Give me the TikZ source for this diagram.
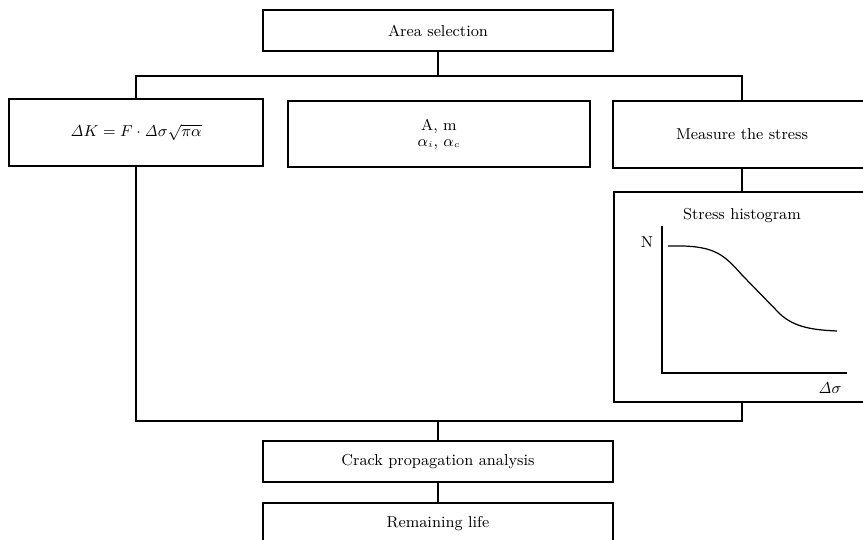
\documentclass[tikz,border=0pt]{standalone}
\usepackage{xcolor}
\usepackage{tikz}
\usepackage{amsmath}
\usetikzlibrary{positioning, calc}

\begin{document}
\begin{tikzpicture}[x=0.02cm, y=-0.02cm, font=\small, line width=0.7pt]
    \tikzstyle{block} = [rectangle, draw, text centered, minimum height=0.82cm, inner sep=0pt]
    \useasboundingbox (0,0) rectangle (863,540);
    
    % Top
    \node[block, minimum width=7cm] (area) at (438,30.5) {Area selection};
    
    % Inputs
    \node[block, minimum width=5.08cm, minimum height=1.34cm] (dk) at (136,132.5) {$\mathit{\Delta} K = F\cdot \mathit{\Delta}\sigma\sqrt{\pi\alpha}$};
    \node[block, minimum width=6.04cm, minimum height=1.32cm, text width=6cm, align=center] (am) at (439,134) {A, m\\[-2pt]$\alpha_{\scriptscriptstyle i}$, $\alpha_{\scriptscriptstyle c}$};
    \node[block, minimum width=5.16cm, minimum height=1.34cm] (meas) at (742,134.5) {Measure the stress};
    
    % Histogram
    \node[block, minimum width=5.12cm, minimum height=4.2cm] (hist) at (742,297) {};
    \node (histtitle) at (742,216) {Stress histogram};
    \node (nlab) at (647,242) {N};
    \node (slab) at (830,388) {$\mathit{\Delta}\sigma$};
    \draw (662,226) |- (847,373);
    \draw (668,246) .. controls (712,245) and (722,252) .. (742,275)
        -- (780,314) .. controls (795,328) and (815,330) .. (837,331);
    
    % Analysis
    \node[block, minimum width=7cm] (crack) at (438,461.5) {Crack propagation analysis};
    \node[block, minimum width=7cm, minimum height=0.84cm] (life) at (438,524) {Remaining life};
    
    \coordinate (busT) at (438,76);
    \coordinate (busB) at (438,421);
    
    \draw (area) -- (busT);
    \draw (dk.north) |- (busT) -| (meas.north);
    \draw (meas) -- (hist);
    \draw (dk.south) |- (busB) -| (hist.south);
    \draw (busB) -- (crack);
    \draw (crack) -- (life);
\end{tikzpicture}
\end{document}
